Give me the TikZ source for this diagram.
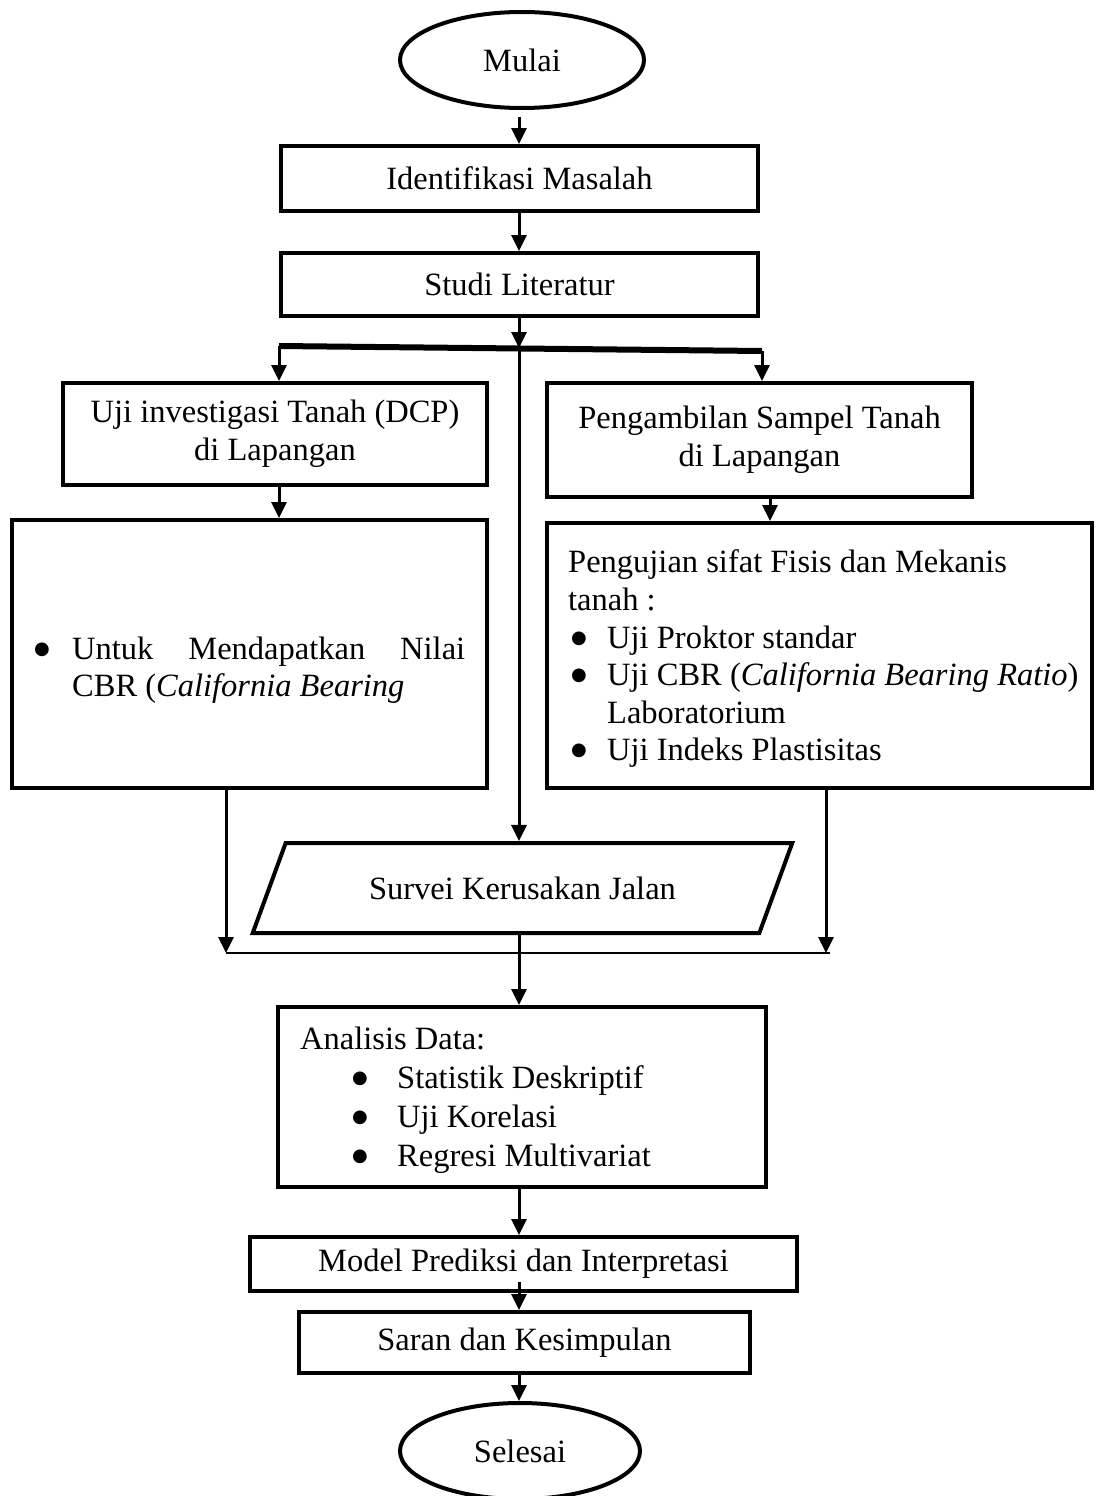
\documentclass[tikz,border=0pt]{standalone}
\usepackage{fontspec}
\setmainfont{Liberation Serif}
\newfontfamily\symf{DejaVu Sans}
\usetikzlibrary{shapes.geometric,arrows.meta}
\newcommand\bul{\raisebox{5pt}{\symf\fontsize{18}{18}\selectfont ●}}
\begin{document}
\begin{tikzpicture}[x=1pt,y=-1pt,
  txt/.style={font=\fontsize{32.5}{37.6}\selectfont, inner sep=0pt},
  box/.style={draw, line width=4pt, rectangle, inner sep=0pt, txt, align=center},
  oval/.style={draw, line width=4pt, ellipse, inner sep=0pt, txt},
  arr/.style={line width=3pt, -{Triangle[length=16pt,width=15pt]}},
  thickbar/.style={line width=6pt},
  mergeline/.style={line width=1.8pt}]
\useasboundingbox (0,0) rectangle (1095,1496);
\coordinate (ax) at (519,0);

\node[oval, minimum width=244pt, minimum height=96pt] (mulai) at (522,60) {Mulai};
\node[box, minimum width=477pt, minimum height=65pt] (ident) at (519.5,178.5) {Identifikasi Masalah};
\node[box, minimum width=477pt, minimum height=63pt] (studi) at (519.5,284.5) {Studi Literatur};

\coordinate (split) at (519,348);
\coordinate (barL) at (279,346);
\coordinate (barR) at (762,351);

\node[box, minimum width=424pt, minimum height=102pt] (uji) at (275,434) {Uji investigasi Tanah (DCP)\\di Lapangan};
\node[box, minimum width=425pt, minimum height=114pt] (ambil) at (759.5,440) {Pengambilan Sampel Tanah\\di Lapangan};

\node[box, minimum width=475pt, minimum height=268pt] (cbr) at (249.5,654) {};
\node[txt, align=left, anchor=west] (cbrtxt) at (34,670)
  {\makebox[38pt][l]{\bul}\hbox to 393pt{Untuk\hfill Mendapatkan\hfill Nilai}\\
   \hspace*{38pt}CBR (\textit{California Bearing}};

\node[box, minimum width=545pt, minimum height=265pt] (lab) at (819.5,655.5) {};
\node[txt, align=left, anchor=west] (labtxt) at (568,659)
  {Pengujian sifat Fisis dan Mekanis\\
   tanah :\\
   \hspace*{3pt}\makebox[36pt][l]{\bul}Uji Proktor standar\\
   \hspace*{3pt}\makebox[36pt][l]{\bul}\mbox{Uji CBR (\textit{California Bearing Ratio})}\\
   \hspace*{39pt}Laboratorium\\
   \hspace*{3pt}\makebox[36pt][l]{\bul}Uji Indeks Plastisitas};

\node[draw, line width=4pt, trapezium, trapezium left angle=47, trapezium right angle=133,
      trapezium stretches=true, minimum width=541pt, minimum height=90pt, inner sep=0pt, txt]
      (surv) at (522.5,888) {Survei Kerusakan Jalan};

\coordinate (mL) at (226,953);
\coordinate (mR) at (826,953);

\node[box, minimum width=488pt, minimum height=180pt] (anal) at (522,1097) {};
\node[txt, align=left, anchor=west] (analtxt) at (300,1100)
  {Analisis Data:\\[1.5pt]
   \hspace*{52pt}\makebox[45pt][l]{\bul}Statistik Deskriptif\\[1.5pt]
   \hspace*{52pt}\makebox[45pt][l]{\bul}Uji Korelasi\\[1.5pt]
   \hspace*{52pt}\makebox[45pt][l]{\bul}Regresi Multivariat};

\node[box, minimum width=547pt, minimum height=54pt] (model) at (523.5,1264) {Model Prediksi dan Interpretasi};
\node[box, minimum width=451pt, minimum height=61pt] (saran) at (524.5,1342.5) {Saran dan Kesimpulan};
\node[oval, minimum width=240pt, minimum height=96pt] (selesai) at (520,1451) {Selesai};

% connectors
\draw[arr] ([yshift=-7pt]mulai.south -| ax) -- (ident.north -| ax);
\draw[arr] (ident.south -| ax) -- (studi.north -| ax);
\draw[arr] (studi.south -| ax) -- (split);
\draw[thickbar] (barL) -- (barR);
\draw[arr] (barL) -- (uji.north -| barL);
\draw[arr] (barR) -- (ambil.north -| barR);
\draw[arr] (split) -- (surv.north -| ax);
\draw[arr] (uji.south -| barL) -- (cbr.north -| barL);
\draw[arr] (ambil.south -| 770,0) -- (lab.north -| 770,0);
\draw[arr] (cbr.south -| mL) -- (mL);
\draw[arr] (lab.south -| mR) -- (mR);
\draw[mergeline] (mL) -- ([xshift=4pt]mR);
\draw[arr] (surv.south -| ax) -- (anal.north -| ax);
\draw[arr] (anal.south -| ax) -- (model.north -| ax);
\draw[arr] ([yshift=11pt]model.south -| ax) -- (saran.north -| ax);
\draw[arr] (saran.south -| ax) -- (selesai.north -| ax);
\end{tikzpicture}
\end{document}
